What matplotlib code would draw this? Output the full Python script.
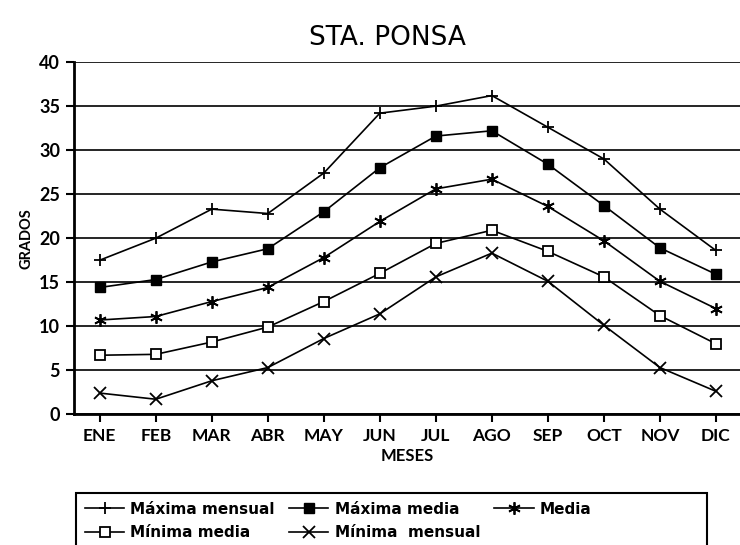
import matplotlib
matplotlib.use("Agg")
import matplotlib.pyplot as plt
from matplotlib.patches import Rectangle

meses = ["ENE", "FEB", "MAR", "ABR", "MAY", "JUN", "JUL", "AGO", "SEP", "OCT", "NOV", "DIC"]

maxima_mensual = [17.5, 20.0, 23.3, 22.8, 27.4, 34.2, 35.0, 36.2, 32.6, 29.0, 23.3, 18.6]
maxima_media = [14.4, 15.3, 17.3, 18.8, 23.0, 28.0, 31.6, 32.2, 28.4, 23.7, 18.9, 15.9]
media = [10.7, 11.1, 12.8, 14.4, 17.8, 21.9, 25.6, 26.7, 23.6, 19.7, 15.1, 12.0]
minima_media = [6.7, 6.8, 8.2, 9.9, 12.8, 16.0, 19.4, 20.9, 18.5, 15.6, 11.2, 8.0]
minima_mensual = [2.4, 1.7, 3.8, 5.3, 8.6, 11.4, 15.6, 18.3, 15.1, 10.1, 5.3, 2.6]

plt.rcParams["font.family"] = "DejaVu Sans"
tick_font = dict(fontfamily=["Lato", "DejaVu Sans"], fontweight="bold")

fig = plt.figure(figsize=(7.4, 5.45), dpi=100)
ax = fig.add_axes([0.1, 0.24, 0.9, 0.646])

x = list(range(len(meses)))
series = [
    (maxima_mensual, "Máxima mensual", "+", dict(markersize=9, markeredgewidth=1.3)),
    (maxima_media, "Máxima media", "s", dict(markersize=7, markerfacecolor="black")),
    (media, "Media", (6, 2, 0), dict(markersize=9, markeredgewidth=1.3)),
    (minima_media, "Mínima media", "s", dict(markersize=7, markerfacecolor="white", markeredgewidth=1.3)),
    (minima_mensual, "Mínima  mensual", "x", dict(markersize=8, markeredgewidth=1.3)),
]
handles = []
for vals, lab, mk, kw in series:
    ln, = ax.plot(x, vals, color="black", linewidth=1.2, marker=mk,
                  markeredgecolor="black", label=lab, zorder=3, **kw)
    handles.append(ln)

ax.set_ylim(0, 40)
ax.set_xlim(-0.46, 11.43)
ax.set_yticks(range(0, 41, 5))
ax.set_xticks(x)
ax.set_xticklabels(meses, fontsize=12.5, **tick_font)
for t in ax.get_yticklabels():
    t.set_fontsize(13)
    t.set_fontfamily(["Lato", "DejaVu Sans"])
    t.set_fontweight("bold")
ax.grid(axis="y", color="black", linewidth=1.2)
ax.set_axisbelow(True)
ax.spines["top"].set_visible(False)
ax.spines["right"].set_visible(False)
ax.spines["left"].set_linewidth(2)
ax.spines["bottom"].set_linewidth(2)
ax.tick_params(axis="both", direction="out", length=6, width=1.5, pad=4)

ax.set_xlabel("MESES", fontsize=12, labelpad=3, **tick_font)
ax.set_ylabel("GRADOS", fontsize=10.5, labelpad=4, **tick_font)

fig.text(387 / 740, 1 - 38 / 545, "STA. PONSA", ha="center", va="center",
         fontsize=19)

# legend fills column by column, so reorder to read row by row
order = [0, 3, 1, 4, 2]
leg = fig.legend(handles=[handles[i] for i in order], loc="upper left", ncol=3,
                 bbox_to_anchor=(77 / 740, 1 - 494 / 545), borderaxespad=0,
                 frameon=False, prop=dict(size=11, weight="bold"),
                 handlelength=2.6, columnspacing=0.9, handletextpad=0.4,
                 borderpad=0.5, labelspacing=0.55)

# legend box is wider than its entries and runs off the bottom edge
box = Rectangle((76 / 740, -0.05), (707 - 76) / 740, 0.05 + 1 - 493 / 545,
                transform=fig.transFigure, fill=False, edgecolor="black",
                linewidth=1.5)
fig.patches.append(box)

fig.savefig("out.png", dpi=100)
